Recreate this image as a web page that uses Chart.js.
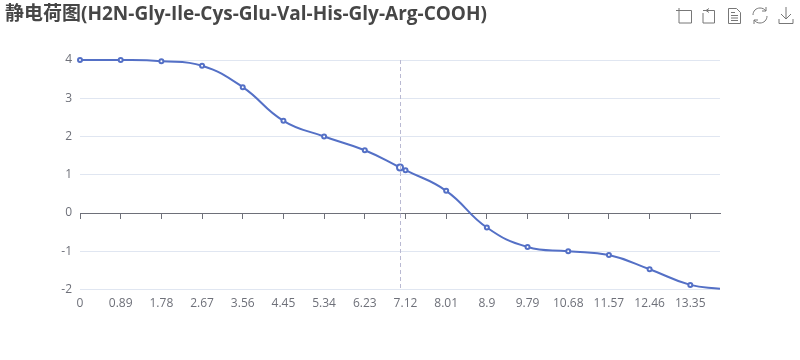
<!DOCTYPE html>
<html>
<head>
<meta charset="utf-8">
<script src="https://cdn.jsdelivr.net/npm/chart.js@4"></script>
<style>
  html, body { margin: 0; padding: 0; background: #fff; }
  #wrap { position: relative; width: 800px; height: 360px; }
  #tools { position: absolute; left: 0; top: 0; }
</style>
</head>
<body>
<div id="wrap">
  <canvas id="chart" width="800" height="360"></canvas>
  <!-- toolbox icons -->
  <svg id="tools" width="800" height="40" fill="none" stroke="#777" stroke-width="1">
    <path d="M676.500 10.500h15v12.500h-12.500V8M676 10.500h3"/>
    <path d="M703 10.500h3M709 8.500l-3 2 3 2M706 10.500h8.500V23H703V13"/>
    <path d="M728.500 8.500h8l4 4v11h-12zM731 12.500h4M731 15.500h7M731 18h7M731 20.500h7"/>
    <path d="M753 15c0-4 3-7 7-7 2.500 0 4.500 1 6 3M767 16c0 4-3 7-7 7-2.500 0-4.500-1-6-3M766 7v4h-4M754 24v-4h4"/>
    <path d="M786 7v12M781 14l5 5 5-5M779 19v4.500h14V19"/>
  </svg>
</div>
<script>
const titleText = '静电荷图(H2N-Gly-Ile-Cys-Glu-Val-His-Gly-Arg-COOH)';

const xValues = [0, 0.89, 1.78, 2.67, 3.56, 4.45, 5.34, 6.23, 7, 7.12, 8.01, 8.9, 9.79, 10.68, 11.57, 12.46, 13.35, 14];
const charges = [4, 4, 3.97, 3.85, 3.29, 2.41, 2, 1.64, 1.19, 1.12, 0.58, -0.38, -0.89, -1, -1.1, -1.47, -1.88, -1.98];

const xTicks = [0, 0.89, 1.78, 2.67, 3.56, 4.45, 5.34, 6.23, 7.12, 8.01, 8.9, 9.79, 10.68, 11.57, 12.46, 13.35];
const hoverX = 7;

const labelColor = '#6e7079';
const labelFont = { family: '"Open Sans", "Noto Sans CJK SC", sans-serif', size: 12 };

function setXTicks(scale) {
    scale.ticks = xTicks.map(v => ({ value: v }));
}

// dashed crosshair at the hovered x
const crosshair = {
    id: 'crosshair',
    afterDatasetsDraw(chart) {
        const { ctx, chartArea, scales } = chart;
        const px = Math.round(scales.x.getPixelForValue(hoverX)) + 0.5;
        ctx.save();
        ctx.strokeStyle = '#b9b9d2';
        ctx.lineWidth = 1;
        ctx.setLineDash([4, 3]);
        ctx.beginPath();
        ctx.moveTo(px, chartArea.top);
        ctx.lineTo(px, chartArea.bottom);
        ctx.stroke();
        ctx.restore();
    }
};

new Chart(document.getElementById('chart'), {
    type: 'line',
    data: {
        datasets: [{
            data: xValues.map((x, i) => ({ x: x, y: charges[i] })),
            borderColor: '#5470c6',
            borderWidth: 2,
            backgroundColor: '#fff',
            pointBackgroundColor: '#fff',
            pointBorderColor: '#5470c6',
            pointBorderWidth: 2,
            pointRadius: c => {
                const x = xValues[c.dataIndex];
                if (x === hoverX) return 3;
                return xTicks.includes(x) ? 2 : 0;
            },
            tension: 0.45,
            clip: false
        }]
    },
    options: {
        responsive: false,
        animation: false,
        events: [],
        layout: { padding: { left: 5, right: 80, top: 3, bottom: 0 } },
        plugins: {
            legend: { display: false },
            tooltip: { enabled: false },
            title: {
                display: true,
                text: titleText,
                align: 'start',
                color: '#464646',
                font: { family: '"Open Sans", "Noto Sans CJK SC", sans-serif', size: 19, weight: 'bold' },
                padding: { top: 0, bottom: 34.2 }
            }
        },
        scales: {
            x: {
                type: 'linear',
                position: 'bottom',
                min: 0,
                max: 14,
                afterBuildTicks: setXTicks,
                afterFit: s => { s.height = 70.5; },
                grid: { display: false, drawTicks: false },
                border: { display: false },
                ticks: {
                    color: labelColor,
                    font: labelFont,
                    padding: 7,
                    maxRotation: 0,
                    autoSkip: false,
                    callback: v => String(v)
                }
            },
            zero: {
                type: 'linear',
                axis: 'x',
                position: { y: 0 },
                min: 0,
                max: 14,
                afterBuildTicks: setXTicks,
                grid: { drawOnChartArea: false, drawTicks: true, tickLength: 5, color: '#6e7079' },
                border: { display: true, color: '#6e7079' },
                ticks: { display: false }
            },
            y: {
                min: -2,
                max: 4,
                afterFit: s => { s.width = 75; },
                grid: { color: '#e0e6f1', drawTicks: false },
                border: { display: false },
                ticks: { stepSize: 1, color: labelColor, font: labelFont, padding: 8 }
            }
        }
    },
    plugins: [crosshair]
});
</script>
</body>
</html>
